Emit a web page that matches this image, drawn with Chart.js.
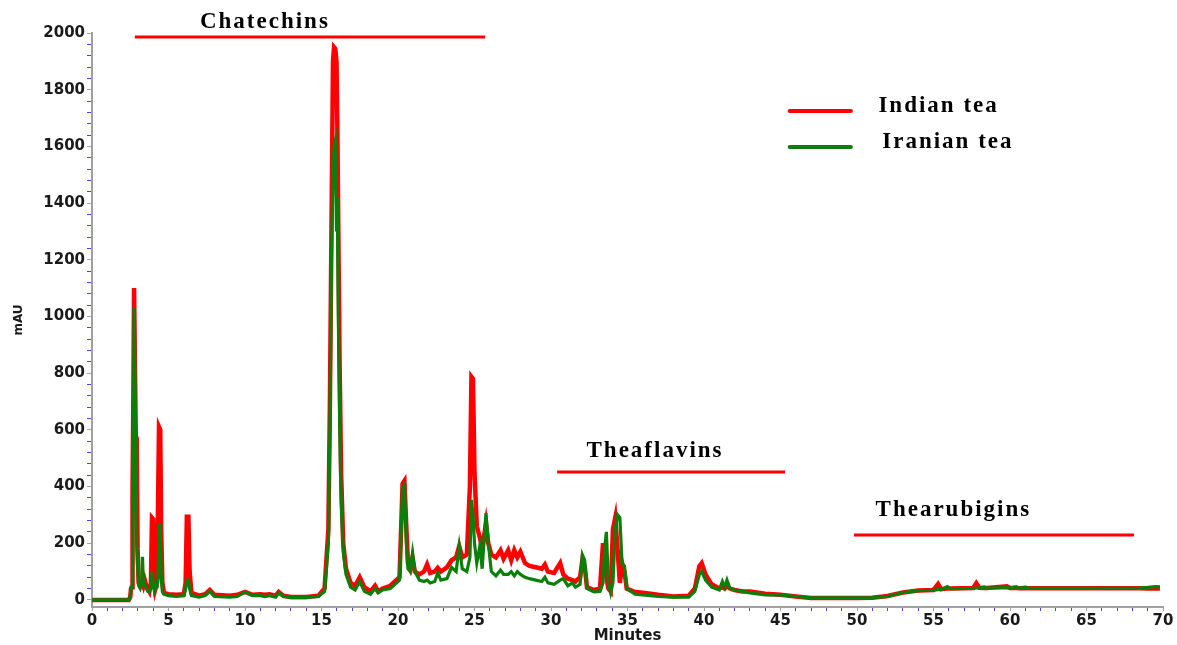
<!DOCTYPE html>
<html>
<head>
<meta charset="utf-8">
<title>HPLC chromatogram - Indian and Iranian tea</title>
<script src="https://cdn.jsdelivr.net/npm/chart.js@4.4.0/dist/chart.umd.min.js"></script>
<style>
    html, body { margin: 0; padding: 0; background: #fff; }
</style>
</head>
<body>
<canvas id="hplcChart" width="1177" height="645"></canvas>
<script>
// retention time (minutes)
const times = [
    0, 2.4, 2.5, 2.55, 2.62, 2.65, 2.7, 2.75, 2.8, 2.86, 2.92, 2.98, 3.05, 3.15, 3.25, 3.3, 3.36, 3.45, 3.55, 3.65,
    3.75, 3.85, 3.92, 4.0, 4.08, 4.15, 4.25, 4.32, 4.38, 4.46, 4.52, 4.6, 4.7, 5.0, 5.5, 6.0, 6.12, 6.2, 6.3, 6.38,
    6.5, 7.0, 7.4, 7.7, 8.0, 9.0, 9.5, 10.0, 10.5, 11.0, 11.3, 11.6, 12.0, 12.2, 12.5, 13.0, 14.0, 14.8, 15.2, 15.45,
    15.55, 15.65, 15.75, 15.82, 15.9, 15.98, 16.03, 16.1, 16.18, 16.28, 16.42, 16.6, 16.9, 17.2, 17.5, 17.8, 18.2, 18.5, 18.7, 19.0,
    19.5, 19.8, 20.1, 20.3, 20.42, 20.55, 20.65, 20.8, 20.95, 21.1, 21.4, 21.7, 21.9, 22.1, 22.4, 22.6, 22.8, 23.2, 23.5, 23.8,
    24.0, 24.2, 24.5, 24.7, 24.8, 24.9, 25.0, 25.15, 25.35, 25.5, 25.75, 25.9, 26.1, 26.4, 26.7, 26.9, 27.2, 27.4, 27.6, 27.8,
    28.0, 28.3, 28.6, 29.0, 29.4, 29.6, 29.8, 30.2, 30.6, 30.8, 31.1, 31.4, 31.6, 31.9, 32.05, 32.2, 32.35, 32.8, 33.2, 33.4,
    33.5, 33.62, 33.75, 33.9, 34.05, 34.2, 34.35, 34.5, 34.65, 34.8, 34.95, 35.5, 36.0, 36.5, 37.0, 38.0, 39.0, 39.4, 39.7, 39.85,
    40.1, 40.5, 41.0, 41.2, 41.35, 41.5, 41.7, 42.0, 42.5, 43.0, 44.0, 45.0, 46.0, 47.0, 50.0, 51.0, 52.0, 53.0, 54.0, 55.0,
    55.3, 55.5, 55.9, 56.1, 57.6, 57.8, 58.0, 58.3, 58.5, 59.8, 60.0, 60.4, 60.6, 61.0, 61.2, 65.0, 68.5, 69.0, 69.5, 69.8
];

// absorbance (mAU)
const indianTea = [
    0, 0, 10, 40, 45, 380, 700, 1100, 1100, 580, 570, 180, 60, 50, 55, 60, 50, 70, 50, 40,
    30, 60, 290, 285, 100, 40, 60, 350, 610, 600, 250, 60, 25, 20, 18, 20, 60, 293, 293, 100,
    25, 15, 20, 35, 18, 15, 18, 28, 18, 20, 18, 20, 15, 28, 15, 10, 10, 15, 40, 250,
    700, 1300, 1900, 1950, 1945, 1900, 1700, 1300, 850, 450, 200, 110, 60, 50, 80, 45, 30, 50, 30, 40,
    50, 65, 80, 410, 420, 250, 130, 110, 150, 100, 90, 100, 125, 95, 100, 113, 100, 115, 140, 150,
    190, 150, 160, 400, 787, 780, 450, 260, 220, 180, 270, 200, 160, 150, 175, 145, 175, 140, 175, 150,
    170, 130, 120, 115, 110, 125, 100, 95, 130, 90, 75, 70, 65, 80, 141, 120, 45, 35, 40, 200,
    120, 80, 40, 30, 250, 290, 180, 60, 130, 100, 40, 28, 25, 22, 18, 12, 15, 40, 120, 130,
    90, 55, 40, 45, 40, 50, 40, 35, 30, 30, 22, 18, 12, 7, 7, 8, 14, 26, 33, 35,
    56, 38, 40, 40, 42, 59, 43, 42, 42, 48, 42, 42, 41, 42, 41, 41, 41, 40, 40, 40
];

const iranianTea = [
    0, 0, 10, 45, 45, 60, 500, 1030, 1030, 580, 200, 120, 50, 40, 60, 152, 60, 55, 40, 30,
    30, 40, 100, 60, 30, 40, 45, 80, 265, 265, 80, 30, 20, 15, 12, 15, 40, 70, 70, 40,
    15, 10, 15, 30, 12, 10, 12, 28, 15, 15, 12, 15, 10, 25, 12, 8, 8, 12, 30, 200,
    600, 1200, 1500, 1600, 1620, 1300, 1420, 1000, 650, 350, 170, 90, 45, 35, 65, 30, 20, 40, 25, 35,
    40, 55, 70, 395, 405, 200, 110, 100, 165, 100, 70, 65, 70, 60, 65, 95, 70, 75, 115, 100,
    190, 110, 100, 150, 353, 300, 200, 130, 190, 110, 306, 200, 100, 85, 105, 90, 90, 100, 85, 100,
    90, 80, 75, 70, 65, 80, 60, 55, 70, 75, 50, 60, 45, 55, 159, 140, 40, 28, 30, 60,
    180, 240, 60, 25, 60, 250, 300, 290, 125, 120, 40, 20, 18, 15, 12, 10, 10, 30, 90, 100,
    70, 45, 35, 65, 45, 70, 40, 35, 30, 25, 18, 18, 12, 7, 7, 8, 12, 26, 33, 34,
    36, 36, 47, 40, 41, 42, 42, 46, 42, 43, 42, 47, 41, 45, 41, 41, 42, 44, 47, 46
];

const seriesNames = ['Indian tea', 'Iranian tea'];

// compound groups marked above the peaks (minutes / mAU)
const groupNames = ['Chatechins', 'Theaflavins', 'Thearubigins'];
const groupStart = [2.8, 30.4, 49.8];
const groupEnd = [25.7, 45.3, 68.1];
const groupLevel = [1986, 451, 229];
const groupLabelX = [11.3, 36.8, 56.3];
const groupLabelY = [2038, 524, 316];

const RED = '#ff0000';
const GREEN = '#0a800a';

function toPoints(values) {
    return times.map((t, i) => ({ x: t, y: values[i] }));
}

// draws the group bars, group names and the legend
const notesPlugin = {
    id: 'notes',
    afterDraw(chart) {
        const ctx = chart.ctx;
        const x = chart.scales.x;
        const y = chart.scales.y;
        ctx.save();
        ctx.font = 'bold 23px "Liberation Serif", "Times New Roman", serif';
        ctx.letterSpacing = '2px';
        ctx.textAlign = 'center';
        ctx.textBaseline = 'middle';
        ctx.fillStyle = '#000';
        ctx.strokeStyle = RED;
        ctx.lineWidth = 3;
        groupNames.forEach((name, i) => {
            const yy = y.getPixelForValue(groupLevel[i]);
            ctx.beginPath();
            ctx.moveTo(x.getPixelForValue(groupStart[i]), yy);
            ctx.lineTo(x.getPixelForValue(groupEnd[i]), yy);
            ctx.stroke();
            ctx.fillText(name, x.getPixelForValue(groupLabelX[i]), y.getPixelForValue(groupLabelY[i]));
        });

        // legend
        const colors = [RED, GREEN];
        const rows = [1725, 1598];
        ctx.textAlign = 'left';
        ctx.lineWidth = 4;
        ctx.lineCap = 'round';
        seriesNames.forEach((name, i) => {
            const yy = y.getPixelForValue(rows[i]);
            ctx.strokeStyle = colors[i];
            ctx.beginPath();
            ctx.moveTo(x.getPixelForValue(45.6), yy);
            ctx.lineTo(x.getPixelForValue(49.6), yy);
            ctx.stroke();
            ctx.fillText(name, x.getPixelForValue(51.4 + i * 0.25), yy - 5);
        });
        ctx.restore();
    }
};

document.addEventListener('DOMContentLoaded', function() {
    const ctx = document.getElementById('hplcChart').getContext('2d');
    const tickFont = { family: '"DejaVu Sans", Arial, sans-serif', size: 15, weight: 'bold' };

    new Chart(ctx, {
        type: 'line',
        data: {
            datasets: [{
                label: seriesNames[0],
                data: toPoints(indianTea),
                borderColor: RED,
                borderWidth: 4.5,
                pointRadius: 0,
                tension: 0,
                order: 1
            }, {
                label: seriesNames[1],
                data: toPoints(iranianTea),
                borderColor: GREEN,
                borderWidth: 3.2,
                pointRadius: 0,
                tension: 0,
                order: 0 // green drawn over red
            }]
        },
        options: {
            responsive: false,
            animation: false,
            devicePixelRatio: 1,
            layout: { padding: { top: 33, right: 14, left: 0, bottom: 0 } },
            plugins: {
                legend: { display: false },
                tooltip: { enabled: false }
            },
            scales: {
                x: {
                    type: 'linear',
                    min: 0,
                    max: 70,
                    afterFit: s => { s.height = 38; },
                    border: { color: '#a0a0a0', width: 2 },
                    grid: {
                        drawOnChartArea: false,
                        tickLength: 4,
                        color: c => (c.tick && c.tick.value % 5 === 0) ? '#a0a0a0' : '#4a4ae0'
                    },
                    ticks: {
                        stepSize: 1,
                        autoSkip: false,
                        maxRotation: 0,
                        padding: 1,
                        color: '#1a1a1a',
                        font: tickFont,
                        callback: v => (v % 5 === 0 ? v : '')
                    },
                    title: {
                        display: true,
                        text: 'Minutes',
                        color: '#1a1a1a',
                        font: tickFont,
                        padding: { top: 0, bottom: 0 }
                    }
                },
                y: {
                    min: -25,
                    max: 2000,
                    afterFit: s => { s.width = 92; },
                    border: { color: '#a0a0a0', width: 2 },
                    grid: {
                        drawOnChartArea: false,
                        tickLength: 5,
                        color: c => (c.tick && c.tick.value % 200 === 0) ? '#a0a0a0' : '#4a4ae0'
                    },
                    ticks: {
                        stepSize: 40,
                        includeBounds: false,
                        autoSkip: false,
                        padding: 2,
                        color: '#1a1a1a',
                        font: tickFont,
                        callback: v => (v % 200 === 0 ? v : '')
                    },
                    title: {
                        display: true,
                        text: 'mAU',
                        color: '#1a1a1a',
                        font: { family: '"DejaVu Sans", Arial, sans-serif', size: 12, weight: 'bold' },
                        padding: { top: 12, bottom: 0 }
                    }
                }
            }
        },
        plugins: [notesPlugin]
    });
});
</script>
</body>
</html>
